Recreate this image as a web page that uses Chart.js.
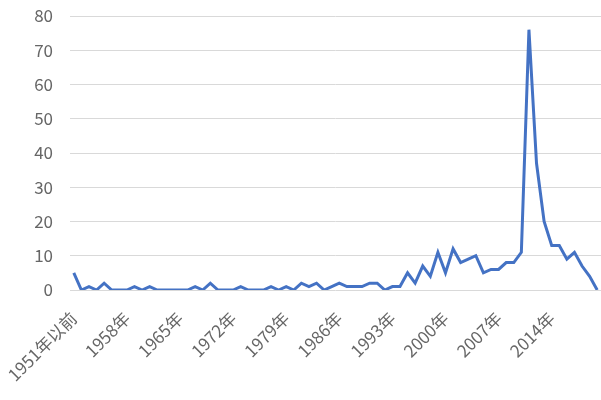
<!DOCTYPE html>
<html>
<head>
<meta charset="utf-8">
<script src="https://cdn.jsdelivr.net/npm/chart.js@4"></script>
<style>
  html, body { margin: 0; padding: 0; background: #fff; }
  #wrap { width: 601px; height: 400px; }
</style>
</head>
<body>
<div id="wrap"><canvas id="lineChart"></canvas></div>
<script>
// Categories: 1951年以前, 1952 ... 2020
const firstLabel = "1951年以前";
const years = [
  1952, 1953, 1954, 1955, 1956, 1957, 1958, 1959, 1960, 1961,
  1962, 1963, 1964, 1965, 1966, 1967, 1968, 1969, 1970, 1971,
  1972, 1973, 1974, 1975, 1976, 1977, 1978, 1979, 1980, 1981,
  1982, 1983, 1984, 1985, 1986, 1987, 1988, 1989, 1990, 1991,
  1992, 1993, 1994, 1995, 1996, 1997, 1998, 1999, 2000, 2001,
  2002, 2003, 2004, 2005, 2006, 2007, 2008, 2009, 2010, 2011,
  2012, 2013, 2014, 2015, 2016, 2017, 2018, 2019, 2020
];
const categories = [firstLabel].concat(years.map((y) => y + "年"));

// Values
const counts = [
  5, 0, 1, 0, 2, 0, 0, 0, 1, 0,
  1, 0, 0, 0, 0, 0, 1, 0, 2, 0,
  0, 0, 1, 0, 0, 0, 1, 0, 1, 0,
  2, 1, 2, 0, 1, 2, 1, 1, 1, 2,
  2, 0, 1, 1, 5, 2, 7, 4, 11, 5,
  12, 8, 9, 10, 5, 6, 6, 8, 8, 11,
  76, 37, 20, 13, 13, 9, 11, 7, 4, 0
];

// Y axis ticks
const yTicks = [0, 10, 20, 30, 40, 50, 60, 70, 80];

const labelFont = { family: "'Noto Sans CJK SC', 'Noto Sans', sans-serif", size: 17 };
const textColor = "#666666";

const ctx = document.getElementById("lineChart");
new Chart(ctx, {
  type: "line",
  data: {
    labels: categories,
    datasets: [
      {
        data: counts,
        borderColor: "#4472C4",
        borderWidth: 3,
        pointRadius: 0,
        tension: 0,
        fill: false,
      },
    ],
  },
  options: {
    responsive: true,
    maintainAspectRatio: false,
    animation: false,
    layout: { padding: { top: 16, right: 0, left: 0, bottom: 0 } },
    plugins: {
      legend: { display: false },
      title: { display: false },
      tooltip: { enabled: false },
    },
    scales: {
      x: {
        offset: true,
        grid: { display: false },
        border: { display: false },
        ticks: {
          color: textColor,
          font: labelFont,
          autoSkip: false,
          maxRotation: 45,
          minRotation: 45,
          padding: 10,
          callback: function (val, index) {
            return index % 7 === 0 ? categories[index] : "";
          },
        },
        afterFit: function (scale) {
          scale.height = 110;
          scale.paddingRight = 0;
          scale.paddingLeft = 0;
        },
      },
      y: {
        min: yTicks[0],
        max: yTicks[yTicks.length - 1],
        grid: { color: "#d9d9d9", lineWidth: 1, drawTicks: false },
        border: { display: false },
        afterBuildTicks: function (scale) {
          scale.ticks = yTicks.map((v) => ({ value: v }));
        },
        ticks: {
          color: textColor,
          font: labelFont,
          padding: 17,
        },
        afterFit: function (scale) {
          scale.width = 70;
          scale.paddingTop = 0;
          scale.paddingBottom = 0;
        },
      },
    },
  },
});
</script>
</body>
</html>
